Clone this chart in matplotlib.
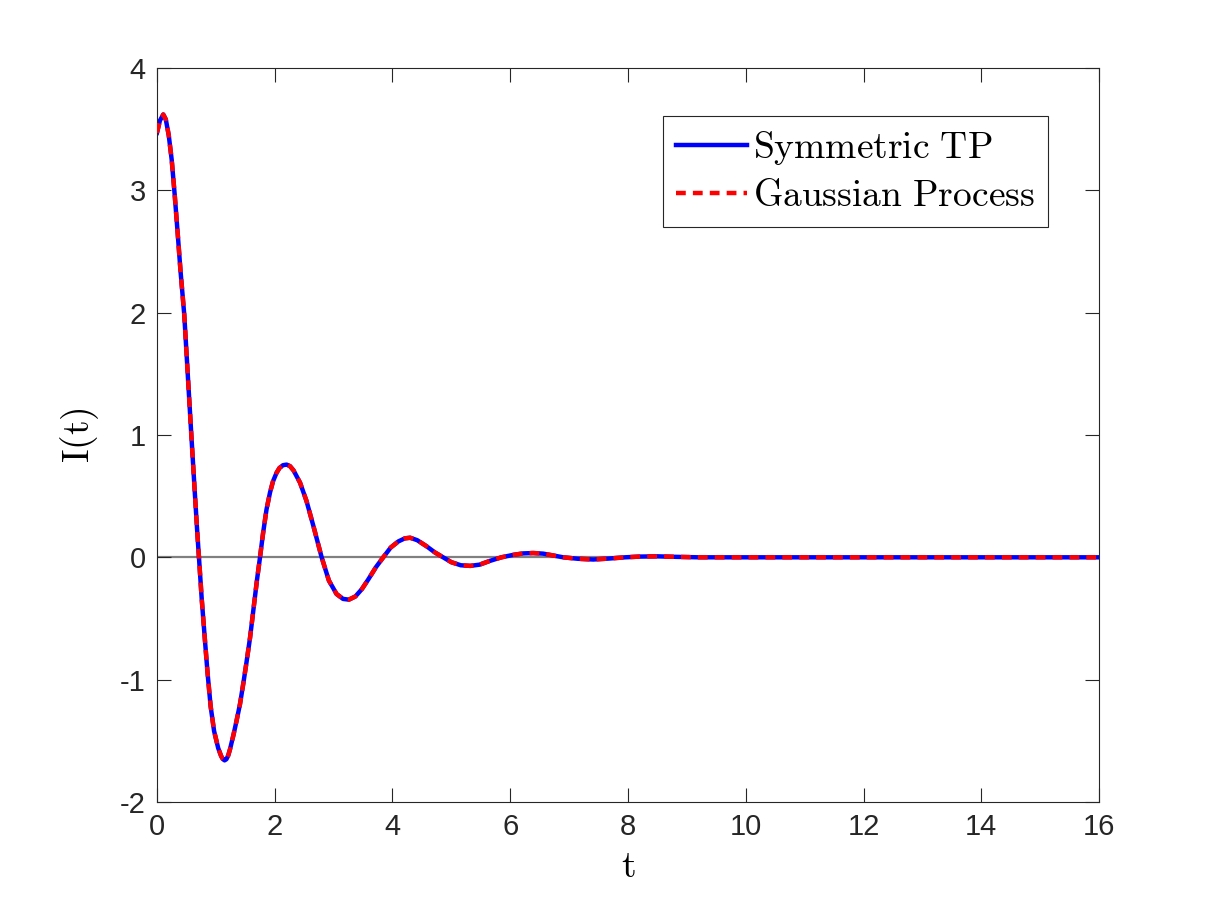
import numpy as np
import matplotlib
matplotlib.use("Agg")
import matplotlib.pyplot as plt

plt.rcParams['mathtext.fontset'] = 'cm'
plt.rcParams['axes.unicode_minus'] = False
plt.rcParams['font.family'] = ['Liberation Sans', 'DejaVu Sans']

# curve (both models overlap)
t = [0.00, 0.05, 0.107, 0.15, 0.20, 0.25, 0.30, 0.35, 0.40, 0.464, 0.52, 0.586,
     0.64, 0.685, 0.713, 0.76, 0.815, 0.86, 0.912, 0.97, 1.04, 1.09, 1.12, 1.149,
     1.18, 1.21, 1.24, 1.30, 1.35, 1.41, 1.47, 1.52, 1.58, 1.64, 1.70, 1.75, 1.80,
     1.86, 1.92, 1.97, 2.03, 2.08, 2.14, 2.203, 2.26, 2.32, 2.43, 2.54, 2.66, 2.797,
     2.92, 3.05, 3.16, 3.26, 3.37, 3.48, 3.59, 3.72, 3.843, 3.97, 4.10, 4.21, 4.30,
     4.42, 4.58, 4.72, 4.86, 5.00, 5.16, 5.32, 5.48, 5.65, 5.85, 6.05, 6.22, 6.39,
     6.56, 6.73, 6.90, 7.15, 7.41, 7.68, 7.95, 8.20, 8.50, 8.80, 9.20, 10.0, 12.0,
     14.0, 16.0]
symmetric_tp = [3.47, 3.57, 3.62, 3.58, 3.45, 3.25, 2.97, 2.66, 2.34, 1.98, 1.52, 0.98,
                0.55, 0.20, 0.00, -0.34, -0.68, -0.95, -1.22, -1.42, -1.56, -1.625, -1.65, -1.66,
                -1.65, -1.62, -1.57, -1.45, -1.34, -1.20, -1.02, -0.86, -0.66, -0.42, -0.18, 0.00, 0.19,
                0.39, 0.53, 0.62, 0.69, 0.73, 0.753, 0.758, 0.745, 0.71, 0.61, 0.46, 0.25, 0.00,
                -0.19, -0.30, -0.34, -0.346, -0.32, -0.26, -0.18, -0.08, 0.00, 0.08, 0.13, 0.155, 0.16,
                0.14, 0.09, 0.04, 0.00, -0.04, -0.065, -0.07, -0.06, -0.03, 0.00, 0.02, 0.032, 0.035,
                0.03, 0.015, 0.00, -0.012, -0.018, -0.01, 0.00, 0.006, 0.008, 0.004, 0.00, 0.00, 0.00,
                0.00, 0.00]
gaussian_process = list(symmetric_tp)

fig = plt.figure(figsize=(12.14, 9.02), dpi=100)
ax = fig.add_axes([0.1293, 0.1109, 0.7760, 0.8137])

ax.axhline(0, color='#808080', lw=1.6, zorder=1)
ax.plot(t, symmetric_tp, color='blue', lw=3.2, label=r'$\mathrm{Symmetric\ TP}$', zorder=2)
ax.plot(t, gaussian_process, color='red', lw=3.2, ls=(0, (2.2, 1.6)),
        label=r'$\mathrm{Gaussian\ Process}$', zorder=3)

ax.set_xlim(0, 16)
ax.set_ylim(-2, 4)
ax.set_xticks(np.arange(0, 17, 2))
ax.set_yticks(np.arange(-2, 5, 1))
ax.tick_params(direction='in', length=10, width=0.8, top=True, right=True,
               labelsize=21, colors='#262626', pad=8)
for s in ax.spines.values():
    s.set_linewidth(0.8)
    s.set_color('#262626')

ax.set_xlabel(r'$\mathrm{t}$', fontsize=27, labelpad=6)
ax.set_ylabel(r'$\mathrm{I(t)}$', fontsize=27, labelpad=14)

leg = ax.legend(loc='upper right', bbox_to_anchor=(0.946, 0.935), fontsize=27,
                frameon=True, fancybox=False, framealpha=1, edgecolor='#262626',
                handlelength=1.9, handletextpad=0.15, borderpad=0.35, labelspacing=0.3,
                borderaxespad=0)
leg.get_frame().set_linewidth(0.8)

fig.savefig('out.png', dpi=100)
